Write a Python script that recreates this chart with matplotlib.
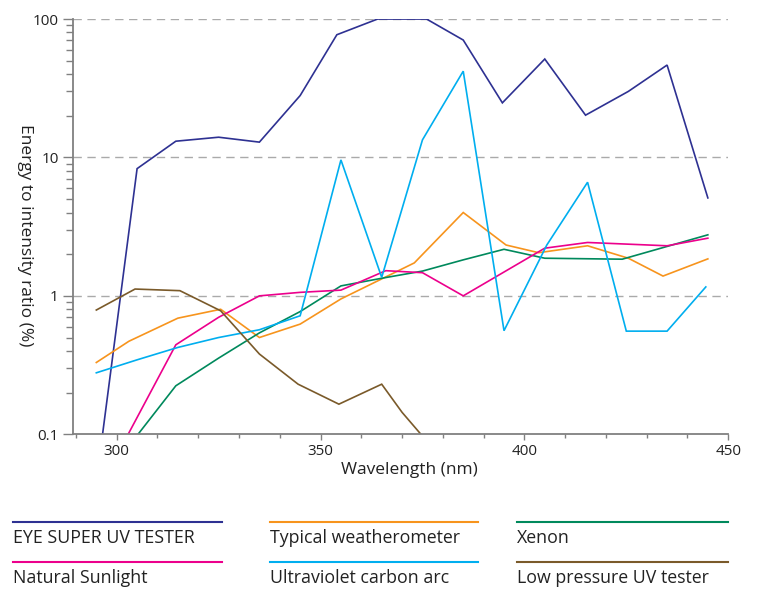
import numpy as np
import matplotlib
matplotlib.use('Agg')
import matplotlib.pyplot as plt
from matplotlib.lines import Line2D
from matplotlib.ticker import FixedLocator, NullFormatter

# series (wavelength in nm, ratio in %)
eye_x = [295, 305, 314.5, 325, 335, 345, 354, 364, 376, 385, 394.6, 405, 415, 425.5, 435, 445]
eye_y = [0.045, 8.3, 13.1, 14.0, 12.9, 28, 77, 100, 100, 70.5, 24.8, 51.4, 20.2, 30, 46.5, 5.1]

weather_x = [295, 303, 315, 325.5, 335, 345, 355, 373, 385, 395.5, 403.5, 415.5, 425.5, 434, 445]
weather_y = [0.33, 0.47, 0.69, 0.80, 0.50, 0.625, 0.95, 1.73, 4.0, 2.33, 2.05, 2.3, 1.87, 1.39, 1.85]

xenon_x = [305, 314.5, 325, 335, 345, 355, 365, 375, 385, 395, 405, 424, 445]
xenon_y = [0.098, 0.224, 0.355, 0.54, 0.77, 1.18, 1.34, 1.51, 1.82, 2.17, 1.87, 1.84, 2.76]

sun_x = [295, 314.5, 325, 335, 345, 355, 366, 375, 385, 405, 415.5, 435, 445]
sun_y = [0.037, 0.443, 0.70, 1.0, 1.06, 1.10, 1.52, 1.47, 1.0, 2.21, 2.43, 2.30, 2.61]

carbon_x = [295, 305, 315, 325, 335, 345, 355, 365, 375, 385, 395, 405.5, 415.5, 425, 435, 444.5]
carbon_y = [0.278, 0.345, 0.424, 0.50, 0.569, 0.718, 9.6, 1.36, 13.4, 42, 0.56, 2.33, 6.62, 0.556, 0.556, 1.16]

lowp_x = [295, 304.5, 315.5, 325.5, 335, 344.5, 354.5, 365, 370, 375]
lowp_y = [0.79, 1.12, 1.09, 0.78, 0.38, 0.23, 0.165, 0.23, 0.144, 0.097]

names = ['EYE SUPER UV TESTER', 'Typical weatherometer', 'Xenon',
         'Natural Sunlight', 'Ultraviolet carbon arc', 'Low pressure UV tester']
colors = ['#2e3192', '#f7941d', '#00895c', '#ec008c', '#00aeef', '#7a5a2a']
series = [(eye_x, eye_y), (weather_x, weather_y), (xenon_x, xenon_y),
          (sun_x, sun_y), (carbon_x, carbon_y), (lowp_x, lowp_y)]

plt.rcParams['font.family'] = ['Open Sans', 'DejaVu Sans']

fig = plt.figure(figsize=(7.57, 5.89), dpi=100)
ax = fig.add_axes([0.096, 0.2627, 0.866, 0.705])

for (xs, ys), c in zip(series, colors):
    ax.plot(xs, ys, color=c, linewidth=1.2, solid_joinstyle='miter')

ax.set_yscale('log')
ax.set_xlim(289.2, 450)
ax.set_ylim(0.1, 100)

ax.set_xticks([300, 350, 400, 450])
ax.xaxis.set_minor_locator(FixedLocator(np.arange(290, 451, 10)))
ax.set_yticks([0.1, 1, 10, 100])
ax.set_yticklabels(['0.1', '1', '10', '100'])
ax.yaxis.set_minor_formatter(NullFormatter())

for s in ['top', 'right']:
    ax.spines[s].set_visible(False)
for s in ['left', 'bottom']:
    ax.spines[s].set_color('#808080')
    ax.spines[s].set_linewidth(1.3)

ax.tick_params(axis='y', which='major', length=7, width=1.0, color='#808080',
               labelsize=11, labelcolor='#222222', pad=3)
ax.tick_params(axis='y', which='minor', length=5, width=1.0, color='#808080')
ax.tick_params(axis='x', which='major', length=4, width=1.0, color='#808080',
               labelsize=11, labelcolor='#222222', pad=3)
ax.tick_params(axis='x', which='minor', length=3, width=1.0, color='#808080')

for v in [1, 10, 100]:
    ax.axhline(v, color='#aaaaaa', linewidth=1.0, dashes=(6, 4), zorder=0)

fig.text(409.5 / 757, 1 - 469.5 / 589, 'Wavelength (nm)', ha='center', va='center',
         fontsize=12.5, color='#222222')
fig.text(25 / 757, 1 - 235 / 589, 'Energy to intensity ratio (%)', rotation=270,
         ha='center', va='center', fontsize=12.5, color='#222222')

# legend: a coloured rule above each label, three columns
col_x = [(13, 222), (270, 478), (517, 728)]
row_y = [522, 562]
for i, (name, c) in enumerate(zip(names, colors)):
    x0, x1 = col_x[i % 3]
    y = row_y[i // 3]
    fig.add_artist(Line2D([x0 / 757, x1 / 757], [1 - y / 589, 1 - y / 589],
                          color=c, linewidth=1.5))
    fig.text(x0 / 757, 1 - (y + 16) / 589, name, ha='left', va='center',
             fontsize=12.8, color='#222222')

fig.savefig('out.png', dpi=100)
